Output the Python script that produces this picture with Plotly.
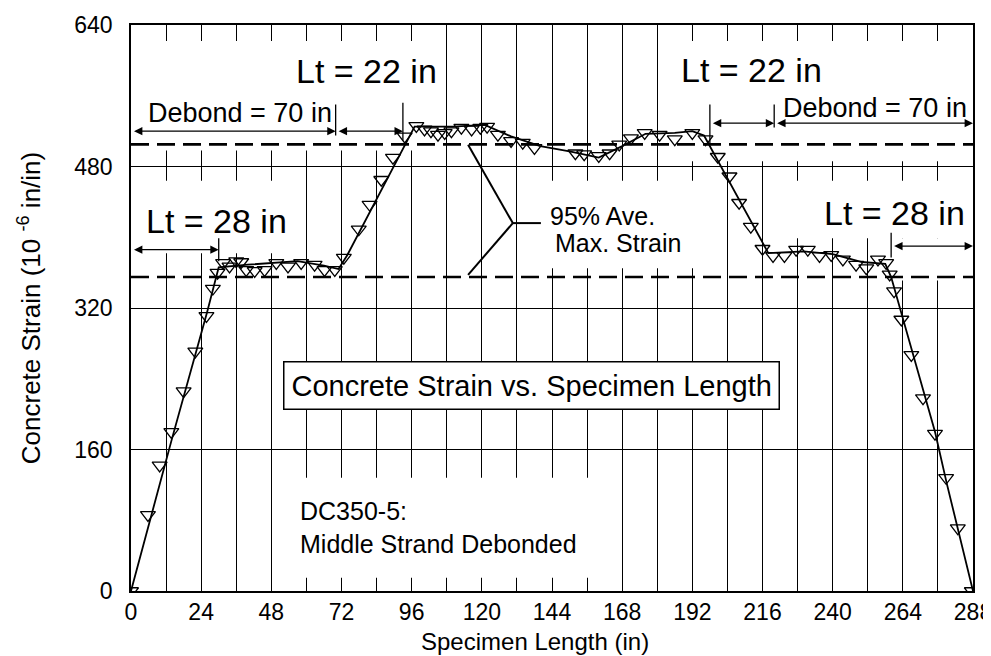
import plotly.graph_objects as go

# ---------------- data ----------------
pos_in = [0, 5.8, 9.8, 13.8, 18, 22, 25.8, 28, 29.6,
          31.5, 33.7, 36, 37.7, 39.4, 42.3, 45.7, 49.7, 53.7, 58.2, 62.8, 66.2, 69.7,
          72.8, 77.9, 81.6, 85.6, 89.6, 93.6, 97.6,
          100.4, 102.6, 105, 107.3, 109.6, 113, 116.5, 119.5, 121.8, 125.5, 130, 134, 138,
          152, 155, 160, 163.7, 167, 171, 175.7, 180.8, 186, 192, 196.5,
          200.7, 204.7, 208, 212, 216,
          219.6, 223.5, 227.5, 231.5, 235.5, 239.5, 243.5, 248, 251.5, 255.5, 258.3,
          259.5, 261, 263.5, 266.9, 270.9, 275, 278.8, 282.8, 287.6]
strain = [0, 86, 142, 180, 226, 271, 311, 342, 360,
          371, 367, 373, 372, 363, 362, 363, 371, 367, 371, 369, 363, 363,
          377, 409, 437, 465, 490, 514, 526,
          522, 520, 516, 518, 520, 524, 522, 524, 525, 516, 509, 507, 501,
          495, 494, 492, 495, 505, 512, 518, 516, 511, 518, 511,
          491, 469, 439, 412, 387,
          379, 379, 386, 386, 379, 380, 375, 369, 365, 375, 371,
          358, 339, 307, 267, 218, 178, 128, 71, 0]

trend_x = [0, 14, 26, 30, 40, 57, 66, 71, 74, 97, 110, 121, 130, 140, 150, 160, 168, 176,
           186, 192, 196, 218, 230, 240, 250, 258, 260, 275, 279, 288]
trend_y = [0, 172, 315, 366, 369, 373, 368, 364, 380, 525, 525, 527, 514, 503, 497, 490, 503, 517,
           518, 520, 515, 382, 384, 381, 372, 370, 355, 180, 122, 0]

ave_max_upper = 505
ave_max_lower = 355

x_ticks = list(range(0, 289, 12))
x_ticktext = [str(v) if v % 24 == 0 else " " for v in x_ticks]
y_ticks = [0, 160, 320, 480, 640]

FONT = "Liberation Sans, Arial, Helvetica, sans-serif"

fig = go.Figure()
fig.add_trace(go.Scatter(x=trend_x, y=trend_y, mode="lines",
                         line=dict(color="black", width=1.8), hoverinfo="skip", showlegend=False))
fig.add_trace(go.Scatter(x=pos_in, y=strain, mode="markers",
                         marker=dict(symbol="triangle-down-open", size=13, color="black",
                                     line=dict(width=1.3, color="black")),
                         showlegend=False))

# white patches that interrupt the gridlines behind the text
patches = [
    (0.5, 105, 498, 622),
    (0.5, 54, 382, 464),
    (187, 287.5, 486, 622),
    (221, 287.5, 399, 464),
    (258, 287.5, 351, 399),
    (140, 197, 365, 464),
    (54, 160, 15, 128),
]
for x0, x1, y0, y1 in patches:
    fig.add_shape(type="rect", x0=x0, x1=x1, y0=y0, y1=y1, xref="x", yref="y",
                  fillcolor="white", line=dict(width=0), layer="between")

# dashed 95% average lines
for yv in (ave_max_upper, ave_max_lower):
    fig.add_shape(type="line", x0=0, x1=288, y0=yv, y1=yv, xref="x", yref="y",
                  line=dict(color="black", width=2.6, dash="18px,8px"), layer="above")

# extension lines of the dimension arrows
ext = [(70, 515, 550), (93, 509, 552), (198, 505, 550), (220, 524, 550), (30, 373, 399), (260, 377, 405)]
for xv, y0, y1 in ext:
    fig.add_shape(type="line", x0=xv, x1=xv, y0=y0, y1=y1, xref="x", yref="y",
                  line=dict(color="black", width=1.3))

# leader lines for 95% label
leaders = [(115.3, 504.5, 130.6, 416), (130.6, 416, 115.3, 357.5), (130.6, 416, 140.2, 416)]
for x0, y0, x1, y1 in leaders:
    fig.add_shape(type="line", x0=x0, x1=x1, y0=y0, y1=y1, xref="x", yref="y",
                  line=dict(color="black", width=2))

# double-headed dimension arrows
dims = [(0, 70, 520), (70, 93, 520), (198, 220, 529), (220, 288, 529), (0, 30, 386), (260, 288, 390)]
for x0, x1, yv in dims:
    fig.add_annotation(x=x1, y=yv, ax=x0, ay=yv, xref="x", yref="y", axref="x", ayref="y",
                       text=" ", showarrow=True, arrowhead=2, arrowside="end+start",
                       arrowsize=1.2, arrowwidth=1.4, arrowcolor="black")

def txt(x, y, s, size, xanchor="center", **kw):
    fig.add_annotation(x=x, y=y, xref="x", yref="y", text=s, showarrow=False,
                       xanchor=xanchor, yanchor="middle",
                       font=dict(family=FONT, size=size, color="black"), **kw)

txt(80.7, 588, "Lt = 22 in", 34)
txt(212.4, 589, "Lt = 22 in", 34)
txt(37.3, 541, "Debond = 70 in", 27)
txt(254.4, 546, "Debond = 70 in", 27)
txt(29.1, 418.6, "Lt = 28 in", 34)
txt(261.3, 427.6, "Lt = 28 in", 34)
txt(142.6, 424, "95% Ave.", 25, xanchor="left")
txt(144.5, 394, "Max. Strain", 25, xanchor="left")
txt(57.1, 91, "DC350-5:", 25, xanchor="left")
txt(57.1, 53, "Middle Strand Debonded", 25, xanchor="left")
txt(137.1, 232, "Concrete Strain vs. Specimen Length", 29,
    bgcolor="white", bordercolor="black", borderwidth=1.5, borderpad=7)

# x-axis title placed as a paper-anchored label just under the tick labels
fig.add_annotation(x=0.48, y=-0.09, xref="paper", yref="paper", text="Specimen Length (in)",
                   showarrow=False, xanchor="center", yanchor="middle",
                   font=dict(family=FONT, size=24, color="black"))

fig.update_xaxes(range=[0, 288], tickvals=x_ticks, ticktext=x_ticktext,
                 showgrid=True, gridcolor="black", gridwidth=1,
                 showline=True, linecolor="black", linewidth=1.6, mirror=True,
                 ticks="", ticklabelstandoff=0, zeroline=False, automargin=False,
                 tickfont=dict(family=FONT, size=23, color="black"))
fig.update_yaxes(range=[0, 640], tickvals=y_ticks,
                 showgrid=True, gridcolor="black", gridwidth=1,
                 showline=True, linecolor="black", linewidth=1.6, mirror=True,
                 ticks="", ticklabelstandoff=12, zeroline=False, automargin=False,
                 tickfont=dict(family=FONT, size=23, color="black"),
                 title=dict(text="Concrete Strain (10 <sup>-6</sup> in/in)", standoff=26,
                            font=dict(family=FONT, size=26, color="black")))

fig.update_layout(width=991, height=656, margin=dict(l=123, r=26, t=17, b=73),
                  plot_bgcolor="white", paper_bgcolor="white", showlegend=False)

fig.write_html("out.html")
